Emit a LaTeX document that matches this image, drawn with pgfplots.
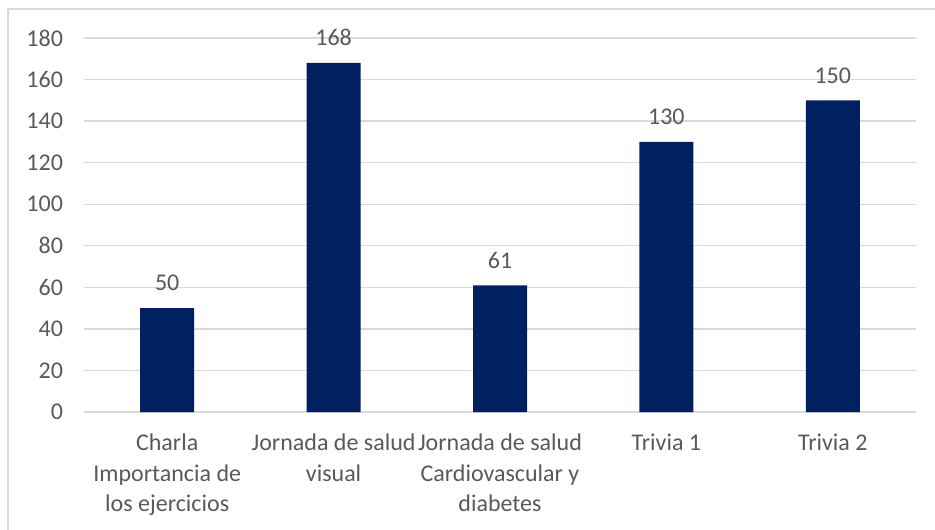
\documentclass[border=0pt]{standalone}
\usepackage{fontspec}
\setmainfont{Carlito}
\usepackage{pgfplots}
\pgfplotsset{compat=1.18}
\definecolor{barblue}{HTML}{002060}
\definecolor{txtgray}{HTML}{595959}
\definecolor{gridgray}{HTML}{D9D9D9}
\begin{document}
\begin{tikzpicture}
% page frame: 1px of the reference = 0.5pt
\path[use as bounding box] (-42pt,-58.5pt) rectangle (425.5pt,206pt);
\draw[gridgray, line width=0.7pt] (-38pt,-60pt) -- (-38pt,201.5pt) -- (430pt,201.5pt);
\begin{axis}[
    at={(0,0)}, anchor=south west,
    scale only axis,
    width=416pt, height=187pt,
    ybar,
    bar width=27pt,
    xmin=-0.5, xmax=4.5,
    ymin=0, ymax=180,
    xtick={0,1,2,3,4},
    xticklabels={Charla\\Importancia de\\los ejercicios,
                 Jornada de salud\\visual,
                 Jornada de salud\\Cardiovascular y\\diabetes,
                 Trivia 1, Trivia 2},
    ytick={0,20,...,180},
    axis line style={draw=none},
    major tick length=0pt,
    ymajorgrids=true,
    major grid style={gridgray, line width=0.7pt},
    font=\fontsize{12}{14.8}\selectfont,
    tick label style={text=txtgray},
    xticklabel style={align=center, anchor=north, yshift=-7.5pt,
        font=\fontsize{12}{15.3}\selectfont},
    yticklabel style={anchor=east, xshift=-7pt},
    /pgf/number format/assume math mode=true,
    nodes near coords,
    every node near coord/.append style={text=txtgray, yshift=5pt,
        /pgf/number format/assume math mode=true},
]
\addplot[fill=barblue, draw=none] coordinates {
    (0, 50)
    (1, 168)
    (2, 61)
    (3, 130)
    (4, 150)
};
\end{axis}
\end{tikzpicture}
\end{document}
